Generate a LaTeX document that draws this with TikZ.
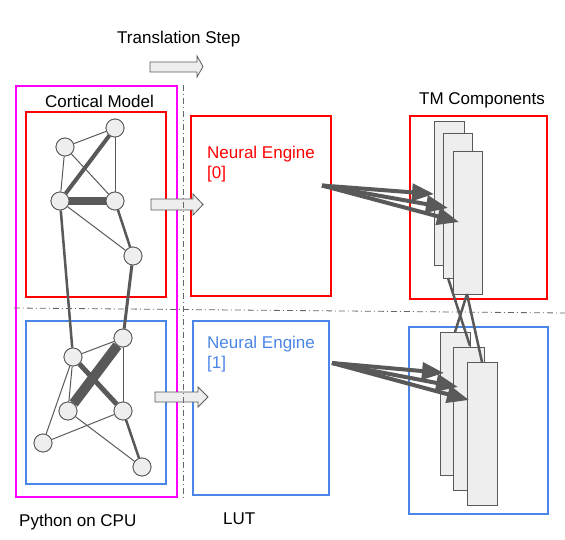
\documentclass[tikz,border=0pt]{standalone}
\usepackage{fontspec}
\setmainfont{Liberation Sans}
\usetikzlibrary{arrows.meta,calc}
\definecolor{gred}{HTML}{FF0000}
\definecolor{gblue}{HTML}{4A86E8}
\definecolor{gmag}{HTML}{FF00FF}
\definecolor{gfill}{HTML}{EEEEEE}
\definecolor{gline}{HTML}{595959}
\definecolor{gdash}{HTML}{666666}
\tikzset{
  lbl/.style={anchor=base west, inner sep=0pt, font=\fontsize{17}{20}\selectfont},
  neuron/.style={circle, draw=gline, fill=gfill, line width=0.8pt, minimum size=18pt, inner sep=0pt},
  edge/.style={draw=gline, line width=#1},
  edge/.default=1pt,
  frame/.style={draw=#1, line width=1.6pt},
  tmrect/.style={draw=gline, fill=gfill, line width=1pt},
  blockarrow/.style={draw=gline, fill=gfill, line width=0.8pt},
  fatarrow/.style={draw=gline, line width=4pt, -{Triangle[length=22pt,width=17pt]}},
  sepline/.style={draw=gdash, line width=0.8pt, dash pattern=on 6pt off 3pt on 1pt off 3pt},
  crossline/.style={draw=gline, line width=2.5pt},
}
\begin{document}
\begin{tikzpicture}[x=1pt,y=-1pt]
\useasboundingbox (0,0) rectangle (565,540);

% texts
\node[lbl] (tstep) at (117,44) {Translation Step};
\node[lbl] (cortical) at (45,107.5) {Cortical Model};
\node[lbl] (tmc) at (419,105) {TM Components};
\node[lbl] (python) at (19,526) {Python on CPU};
\node[lbl] (lut) at (223,524) {LUT};

% frames
\draw[frame=gmag] (16,86) rectangle (177,497);
\draw[frame=gred] (26,112) rectangle (166,297);
\draw[frame=gblue] (26,321) rectangle (166,484);
\draw[frame=gred] (191,116) rectangle (331,296);
\draw[frame=gblue] (193,321) rectangle (329,495);
\draw[frame=gred] (410,116) rectangle (547,299);
\draw[frame=gblue] (409,327) rectangle (548,514);

\node[lbl, text=gred, align=left] (ne0) at (207,179) {Neural Engine\\{}[0]};
\node[lbl, text=gblue, align=left] (ne1) at (207,368) {Neural Engine\\{}[1]};

% block arrows
\draw[blockarrow] (150,62) -- (197,62) -- (197,56) -- (203,66.5) -- (197,77) -- (197,72) -- (150,72) -- cycle;
\draw[blockarrow] (151,199) -- (193,199) -- (193,194) -- (203,204.5) -- (193,215) -- (193,210) -- (151,210) -- cycle;
\draw[blockarrow] (155,392) -- (198,392) -- (198,387) -- (208,397) -- (198,407) -- (198,402) -- (155,402) -- cycle;

% cortical graph nodes
\node[neuron] (A) at (65,147) {};
\node[neuron] (B) at (115,128) {};
\node[neuron] (C) at (60,201) {};
\node[neuron] (D) at (115,201) {};
\node[neuron] (E) at (133,256) {};
\node[neuron] (F) at (73,357) {};
\node[neuron] (G) at (123,338) {};
\node[neuron] (H) at (68,411) {};
\node[neuron] (I) at (123,411) {};
\node[neuron] (J) at (43,443) {};
\node[neuron] (K) at (142,467) {};

% edges
\draw[edge] (A) -- (B);
\draw[edge] (A) -- (C);
\draw[edge] (A) -- (D);
\draw[edge] (B) -- (D);
\draw[edge=4pt] (C) -- (B);
\draw[edge=8pt] (C) -- (D);
\draw[edge] (C) -- (E);
\draw[edge=2.5pt] (D) -- (E);
\draw[edge=2.5pt] (C) -- (F);
\draw[edge=3pt] (E) -- (G);
\draw[edge] (F) -- (G);
\draw[edge] (F) -- (H);
\draw[edge] (F) -- (J);
\draw[edge=5pt] (F) -- (I);
\draw[edge=10pt] (G) -- (H);
\draw[edge] (G) -- (I);
\draw[edge] (H) -- (K);
\draw[edge] (I) -- (J);
\draw[edge=2.5pt] (I) -- (K);
% redraw neurons on top
\foreach \p in {(65,147),(115,128),(60,201),(115,201),(133,256),(73,357),(123,338),(68,411),(123,411),(43,443),(142,467)}
  \node[neuron] at \p {};

% TM component stacks
\node[tmrect, minimum width=30pt, minimum height=143pt, inner sep=0pt] (R1) at (449,193.5) {};
\node[tmrect, minimum width=29pt, minimum height=144pt, inner sep=0pt] (R2) at (457.5,206) {};
\node[tmrect, minimum width=29pt, minimum height=142pt, inner sep=0pt] (R3) at (467.5,223) {};
\node[tmrect, minimum width=30pt, minimum height=143pt, inner sep=0pt] (S1) at (455,403.5) {};
\node[tmrect, minimum width=31pt, minimum height=143pt, inner sep=0pt] (S2) at (468.5,418.5) {};
\node[tmrect, minimum width=30pt, minimum height=143pt, inner sep=0pt] (S3) at (482,433.5) {};

% lines between stacks
\coordinate (l1a) at (448,278);
\coordinate (l1b) at (470,346);
\coordinate (l2a) at (467,294);
\coordinate (l2b) at (455,332);
\coordinate (l3b) at (482,362);
\draw[crossline] (l1a) -- (l1b);
\draw[crossline] (l2a) -- (l2b);
\draw[crossline] (l2a) -- (l3b);

% fat arrows from neural engines
\coordinate (s0) at (322,185.5);
\coordinate (t01) at (434,194);
\coordinate (t02) at (448,208);
\coordinate (t03) at (459,222);
\draw[fatarrow] (s0) -- (t01);
\draw[fatarrow] (s0) -- (t02);
\draw[fatarrow] (s0) -- (t03);
\coordinate (s1) at (332,363);
\coordinate (t11) at (444,373);
\coordinate (t12) at (458,387);
\coordinate (t13) at (469,400);
\draw[fatarrow] (s1) -- (t11);
\draw[fatarrow] (s1) -- (t12);
\draw[fatarrow] (s1) -- (t13);

% separators
\coordinate (vtop) at (183,85);
\coordinate (vbot) at (183,499);
\coordinate (hl) at (14,308);
\coordinate (hr) at (565,313);
\draw[sepline] (vtop) -- (vbot);
\draw[sepline] (hl) -- (hr);
\end{tikzpicture}
\end{document}
